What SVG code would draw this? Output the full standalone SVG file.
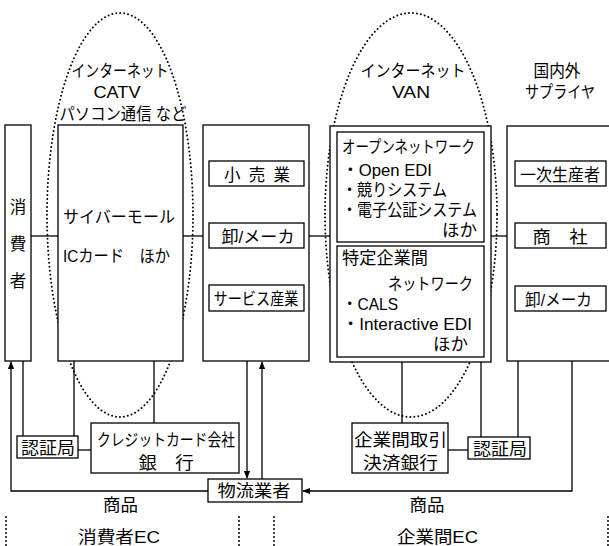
<svg xmlns="http://www.w3.org/2000/svg" width="609" height="546" viewBox="0 0 609 546">
<style>
text{font-family:"Liberation Sans","Noto Sans CJK JP",sans-serif;font-size:16.5px;fill:#000}
.c{text-anchor:middle}
.e{text-anchor:end}
.box{fill:#fff;stroke:#000;stroke-width:1.3}
.ln{fill:none;stroke:#000;stroke-width:1.3}
.dot{fill:none;stroke:#000;stroke-width:2;stroke-dasharray:0 4;stroke-linecap:round}
</style>
<defs>
<marker id="ah" markerWidth="8" markerHeight="10" refX="9" refY="4" orient="auto" markerUnits="userSpaceOnUse" viewBox="0 0 10 8">
<path d="M0,0 L10,4 L0,8 z" fill="#000"/>
</marker>
</defs>
<rect width="609" height="546" fill="#fff"/>
<g id="ellipses">
<ellipse class="dot" cx="120" cy="215" rx="73" ry="202"/>
<ellipse class="dot" cx="411" cy="215" rx="86" ry="202"/>
</g>
<g id="connectors">
<line class="ln" x1="31" y1="236" x2="58" y2="236"/>
<line class="ln" x1="183" y1="236" x2="203" y2="236"/>
<line class="ln" x1="309" y1="236" x2="330" y2="236"/>
<line class="ln" x1="491" y1="236" x2="507" y2="236"/>
<line class="ln" x1="23" y1="361" x2="23" y2="436"/>
<line class="ln" x1="74" y1="361" x2="74" y2="436"/>
<line class="ln" x1="78" y1="450" x2="91" y2="450"/>
<line class="ln" x1="154" y1="361" x2="154" y2="423"/>
<line class="ln" x1="402" y1="362" x2="402" y2="423"/>
<line class="ln" x1="481" y1="362" x2="481" y2="437"/>
<line class="ln" x1="518" y1="361" x2="518" y2="437"/>
<line class="ln" x1="448" y1="450" x2="468" y2="450"/>
<path class="ln" d="M208,491 H11 V362" marker-end="url(#ah)"/>
<path class="ln" d="M247,361 V478" marker-end="url(#ah)"/>
<path class="ln" d="M262,479 V362" marker-end="url(#ah)"/>
<path class="ln" d="M572,361 V491 H303" marker-end="url(#ah)"/>
</g>
<g id="consumer">
<rect class="box" x="5" y="125" width="26" height="236"/>
<text class="c" x="18" y="213">消</text>
<text class="c" x="18" y="250">費</text>
<text class="c" x="18" y="287">者</text>
</g>
<g id="net1">
<text class="c" x="120" y="77" textLength="97" lengthAdjust="spacingAndGlyphs">インターネット</text>
<text class="c" x="117" y="98" textLength="47" lengthAdjust="spacingAndGlyphs">CATV</text>
<text class="c" x="123" y="120" textLength="127" lengthAdjust="spacingAndGlyphs">パソコン通信 など</text>
</g>
<g id="cybermall">
<rect class="box" x="58" y="125" width="125" height="236"/>
<text class="c" x="119" y="223" textLength="112" lengthAdjust="spacingAndGlyphs">サイバーモール</text>
<text x="63" y="262" textLength="107" lengthAdjust="spacingAndGlyphs">ICカード　ほか</text>
</g>
<g id="retail">
<rect class="box" x="203" y="125" width="106" height="236"/>
<rect class="box" x="209" y="161" width="95" height="25"/>
<text class="c" x="257" y="181" textLength="66" lengthAdjust="spacing">小売業</text>
<rect class="box" x="209" y="223" width="95" height="25"/>
<text class="c" x="258" y="243" textLength="73" lengthAdjust="spacingAndGlyphs">卸/メーカ</text>
<rect class="box" x="209" y="285" width="95" height="26"/>
<text class="c" x="256" y="305" textLength="85" lengthAdjust="spacingAndGlyphs">サービス産業</text>
</g>
<g id="net2">
<text class="c" x="413" y="77" textLength="105" lengthAdjust="spacingAndGlyphs">インターネット</text>
<text class="c" x="411" y="98" textLength="38" lengthAdjust="spacingAndGlyphs">VAN</text>
</g>
<g id="van">
<rect class="box" x="330" y="126" width="161" height="236"/>
<rect class="box" x="337" y="132" width="147" height="110"/>
<text x="342" y="153" textLength="133" lengthAdjust="spacingAndGlyphs">オープンネットワーク</text>
<text x="342" y="176" textLength="90" lengthAdjust="spacingAndGlyphs">・Open EDI</text>
<text x="342" y="196" textLength="105" lengthAdjust="spacingAndGlyphs">・競りシステム</text>
<text x="342" y="216" textLength="135" lengthAdjust="spacingAndGlyphs">・電子公証システム</text>
<text class="e" x="477" y="236" textLength="35" lengthAdjust="spacingAndGlyphs">ほか</text>
<rect class="box" x="337" y="246" width="147" height="111"/>
<text x="342" y="264" textLength="86" lengthAdjust="spacingAndGlyphs">特定企業間</text>
<text class="e" x="473" y="290" textLength="85" lengthAdjust="spacingAndGlyphs">ネットワーク</text>
<text x="342" y="310" textLength="56" lengthAdjust="spacingAndGlyphs">・CALS</text>
<text x="342" y="330" textLength="130" lengthAdjust="spacingAndGlyphs">・Interactive EDI</text>
<text class="e" x="468" y="350" textLength="35" lengthAdjust="spacingAndGlyphs">ほか</text>
</g>
<g id="supplier">
<text class="c" x="557" y="77" textLength="47" lengthAdjust="spacingAndGlyphs">国内外</text>
<text class="c" x="560" y="98" textLength="70" lengthAdjust="spacingAndGlyphs">サプライヤ</text>
<rect class="box" x="507" y="126" width="110" height="235"/>
<rect class="box" x="515" y="161" width="91" height="25"/>
<text class="c" x="560" y="181" textLength="80" lengthAdjust="spacingAndGlyphs">一次生産者</text>
<rect class="box" x="515" y="223" width="91" height="25"/>
<text class="c" x="560" y="243" textLength="55" lengthAdjust="spacingAndGlyphs">商　社</text>
<rect class="box" x="515" y="286" width="91" height="25"/>
<text class="c" x="558.5" y="306" textLength="67" lengthAdjust="spacingAndGlyphs">卸/メーカ</text>
</g>
<g id="auth1">
<rect class="box" x="17" y="436" width="61" height="22"/>
<text class="c" x="48" y="454" textLength="54" lengthAdjust="spacingAndGlyphs">認証局</text>
</g>
<g id="credit">
<rect class="box" x="91" y="423" width="148" height="50"/>
<text class="c" x="166" y="446" textLength="138" lengthAdjust="spacingAndGlyphs">クレジットカード会社</text>
<text class="c" x="166" y="469" textLength="55" lengthAdjust="spacingAndGlyphs">銀　行</text>
</g>
<g id="bizbank">
<rect class="box" x="352" y="423" width="96" height="50"/>
<text class="c" x="400.5" y="446" textLength="93" lengthAdjust="spacingAndGlyphs">企業間取引</text>
<text class="c" x="400.5" y="469" textLength="75" lengthAdjust="spacingAndGlyphs">決済銀行</text>
</g>
<g id="auth2">
<rect class="box" x="468" y="437" width="62" height="22"/>
<text class="c" x="500" y="455" textLength="54" lengthAdjust="spacingAndGlyphs">認証局</text>
</g>
<g id="logistics">
<rect class="box" x="208" y="479" width="94" height="23"/>
<text class="c" x="254" y="497" textLength="73" lengthAdjust="spacingAndGlyphs">物流業者</text>
</g>
<g id="labels">
<text class="c" x="120.5" y="511" textLength="35" lengthAdjust="spacingAndGlyphs">商品</text>
<text class="c" x="427" y="511" textLength="35" lengthAdjust="spacingAndGlyphs">商品</text>
<text class="c" x="119" y="543" textLength="82" lengthAdjust="spacingAndGlyphs">消費者EC</text>
<text class="c" x="437.5" y="543" textLength="81" lengthAdjust="spacingAndGlyphs">企業間EC</text>
<line class="dot" x1="6" y1="517" x2="6" y2="546"/>
<line class="dot" x1="239" y1="517" x2="239" y2="546"/>
<line class="dot" x1="274" y1="517" x2="274" y2="546"/>
<line class="dot" x1="608" y1="517" x2="608" y2="546"/>
</g>
</svg>
